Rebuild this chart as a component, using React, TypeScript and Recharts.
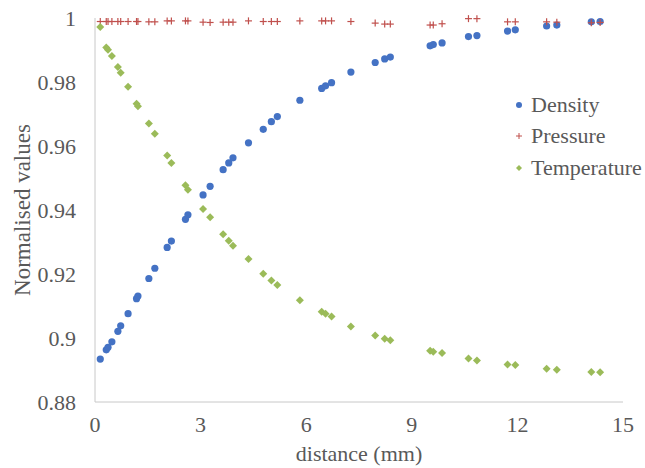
import React from "react";
import { ScatterChart, Scatter, XAxis, YAxis, Legend } from "recharts";

const distance = [0.15, 0.32, 0.37, 0.48, 0.65, 0.73, 0.94, 1.18, 1.22, 1.53, 1.7, 2.05, 2.17, 2.57, 2.64, 3.07, 3.27, 3.64, 3.8, 3.92, 4.36, 4.78, 5.01, 5.18, 5.82, 6.44, 6.55, 6.72, 7.27, 7.96, 8.23, 8.39, 9.52, 9.61, 9.86, 10.61, 10.85, 11.72, 11.94, 12.83, 13.12, 14.1, 14.35];
const density = [0.8934, 0.8963, 0.8971, 0.8988, 0.9021, 0.9038, 0.9076, 0.9123, 0.9131, 0.9186, 0.9218, 0.9283, 0.9303, 0.9371, 0.9385, 0.9447, 0.9474, 0.9526, 0.9547, 0.9563, 0.961, 0.9652, 0.9676, 0.9692, 0.9743, 0.978, 0.9788, 0.9798, 0.9831, 0.9861, 0.9872, 0.9878, 0.9913, 0.9917, 0.9922, 0.9942, 0.9945, 0.9959, 0.9963, 0.9975, 0.9978, 0.9988, 0.9989];
const pressure = [0.9989, 0.9989, 0.9989, 0.9989, 0.9989, 0.9989, 0.9989, 0.9989, 0.9989, 0.9988, 0.9988, 0.9991, 0.9991, 0.9991, 0.9991, 0.9987, 0.9986, 0.9987, 0.9987, 0.9987, 0.9991, 0.9989, 0.9989, 0.9989, 0.9991, 0.9991, 0.9991, 0.9991, 0.9989, 0.9984, 0.9981, 0.9981, 0.9978, 0.9978, 0.9982, 0.9998, 0.9998, 0.9988, 0.9988, 0.9988, 0.9987, 0.9985, 0.9986];
const temperature = [0.9972, 0.9908, 0.9901, 0.9881, 0.9847, 0.9829, 0.9785, 0.9732, 0.9724, 0.967, 0.9638, 0.957, 0.9547, 0.9477, 0.9463, 0.9403, 0.9377, 0.9324, 0.9304, 0.9288, 0.9247, 0.9201, 0.918, 0.9166, 0.9118, 0.9082, 0.9076, 0.9067, 0.9036, 0.9008, 0.8998, 0.8993, 0.896, 0.8957, 0.8953, 0.8936, 0.893, 0.8917, 0.8916, 0.8904, 0.8901, 0.8894, 0.8893];

const xTicks = [0, 3, 6, 9, 12, 15];
const yTicks = [0.88, 0.9, 0.92, 0.94, 0.96, 0.98, 1];

const seriesNames = ["Density", "Pressure", "Temperature"];
const colors = ["#4472C4", "#C0504D", "#9BBB59"];

const toPoints = (vals: number[]) => distance.map((d, i) => ({ x: d, y: vals[i] }));
const densityData = toPoints(density);
const pressureData = toPoints(pressure);
const temperatureData = toPoints(temperature);

const FONT = '"Liberation Serif", "DejaVu Serif", serif';
const TEXT = "#595959";

const Circle = (p: any) => <circle cx={p.cx} cy={p.cy} r={3.6} fill={colors[0]} />;
const Plus = (p: any) => (
  <g stroke={colors[1]} strokeWidth={1.2}>
    <line x1={p.cx - 3.5} y1={p.cy} x2={p.cx + 3.5} y2={p.cy} />
    <line x1={p.cx} y1={p.cy - 3.5} x2={p.cx} y2={p.cy + 3.5} />
  </g>
);
const Diamond = (p: any) => (
  <path d={`M${p.cx},${p.cy - 4} L${p.cx + 4},${p.cy} L${p.cx},${p.cy + 4} L${p.cx - 4},${p.cy} Z`} fill={colors[2]} />
);

const LegendContent = () => (
  <div style={{ fontFamily: FONT, fontSize: 22, color: TEXT, whiteSpace: "nowrap" }}>
    {seriesNames.map((n, i) => (
      <div key={n} style={{ display: "flex", alignItems: "center", height: 31.5 }}>
        <svg width={14} height={14} style={{ marginRight: 5, flexShrink: 0 }}>
          {i === 0 && <circle cx={7} cy={7} r={3} fill={colors[0]} />}
          {i === 1 && (
            <g stroke={colors[1]} strokeWidth={1}>
              <line x1={4} y1={7} x2={10} y2={7} />
              <line x1={7} y1={4} x2={7} y2={10} />
            </g>
          )}
          {i === 2 && <path d="M7,4 L10,7 L7,10 L4,7 Z" fill={colors[2]} />}
        </svg>
        <span>{n}</span>
      </div>
    ))}
  </div>
);

const fmt = (v: number) => String(Number(v.toFixed(2)));

export default function App() {
  return (
    <div style={{ position: "fixed", top: 0, left: 0, width: 645, height: 468, background: "#fff" }}>
      <ScatterChart width={645} height={468} margin={{ top: 18, right: 22, bottom: 0, left: 0 }}>
        <XAxis
          type="number"
          dataKey="x"
          domain={[0, 15]}
          ticks={xTicks}
          tickLine={false}
          tickMargin={8}
          height={66}
          axisLine={{ stroke: "#C8C8C8" }}
          tick={{ fill: TEXT, fontSize: 22, fontFamily: FONT }}
          label={{
            content: (props: any) => {
              const vb = props.viewBox;
              return (
                <text x={vb.x + vb.width / 2} y={vb.y + 59} textAnchor="middle" fill={TEXT} fontSize={22} fontFamily={FONT}>
                  distance (mm)
                </text>
              );
            },
          }}
        />
        <YAxis
          type="number"
          dataKey="y"
          domain={[0.88, 1]}
          ticks={yTicks}
          tickFormatter={fmt}
          tickLine={false}
          tickMargin={13}
          width={95}
          axisLine={{ stroke: "#C8C8C8" }}
          tick={{ fill: TEXT, fontSize: 22, fontFamily: FONT }}
          label={{
            content: (props: any) => {
              const vb = props.viewBox;
              const cx = vb.x + 22;
              const cy = vb.y + vb.height / 2;
              return (
                <text x={cx} y={cy} transform={`rotate(-90 ${cx} ${cy})`} textAnchor="middle" dominantBaseline="central" fill={TEXT} fontSize={23} fontFamily={FONT}>
                  Normalised values
                </text>
              );
            },
          }}
        />
        <Legend content={<LegendContent />} layout="vertical" verticalAlign="middle" align="center" wrapperStyle={{ top: 89, left: 512, width: 130 }} />
        <Scatter name="Density" data={densityData} shape={Circle} isAnimationActive={false} />
        <Scatter name="Pressure" data={pressureData} shape={Plus} isAnimationActive={false} />
        <Scatter name="Temperature" data={temperatureData} shape={Diamond} isAnimationActive={false} />
      </ScatterChart>
    </div>
  );
}
